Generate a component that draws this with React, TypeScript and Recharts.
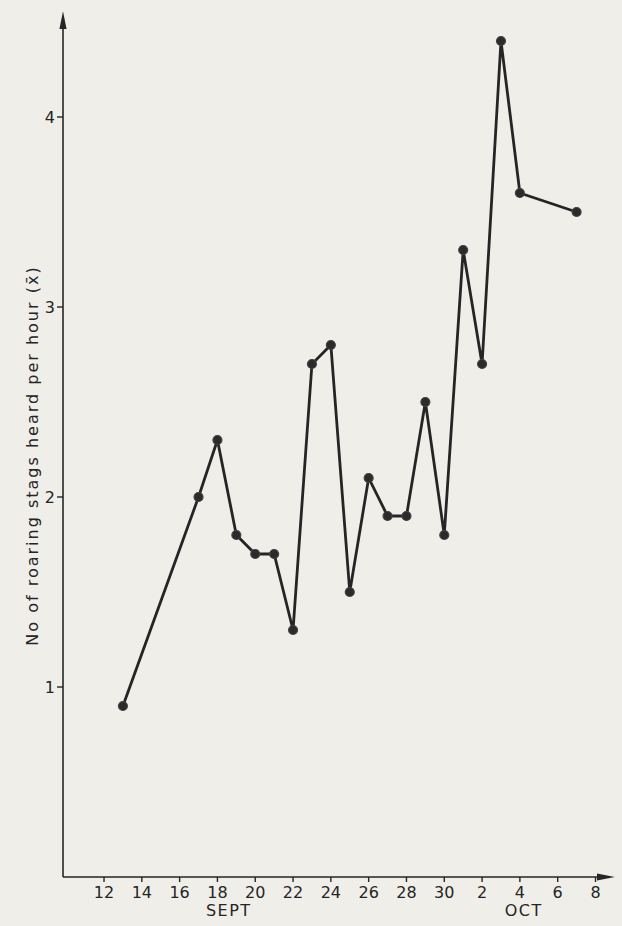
import React from 'react';
import { LineChart, Line, XAxis, YAxis } from 'recharts';

// Day numbers counted from 1 Sept (Oct 1 = 31)
const DAYS = [13, 17, 18, 19, 20, 21, 22, 23, 24, 25, 26, 27, 28, 29, 30, 31, 32, 33, 34, 37];
const STAGS_PER_HOUR = [0.9, 2.0, 2.3, 1.8, 1.7, 1.7, 1.3, 2.7, 2.8, 1.5, 2.1, 1.9, 1.9, 2.5, 1.8, 3.3, 2.7, 4.4, 3.6, 3.5];

const X_TICKS = [12, 14, 16, 18, 20, 22, 24, 26, 28, 30, 32, 34, 36, 38];
const X_TICK_LABELS = ['12', '14', '16', '18', '20', '22', '24', '26', '28', '30', '2', '4', '6', '8'];
const MONTH_TICKS = [18.6, 34.2];
const MONTH_LABELS = ['SEPT', 'OCT'];
const Y_TICKS = [1, 2, 3, 4];
const Y_TITLE = 'No of roaring stags heard per hour (x\u0304)';

const data = DAYS.map((d, i) => ({ day: d, value: STAGS_PER_HOUR[i] }));

const INK = '#252525';
const FONT = '"DejaVu Sans", sans-serif';

export default function App() {
  return (
    <div style={{ position: 'absolute', left: 0, top: 0, width: 622, height: 926, background: '#efeee9' }}>
      <LineChart width={622} height={926} data={data} margin={{ top: 22, right: 18, bottom: 0, left: 0 }}>
        <defs>
          <marker id="arrowHead" viewBox="0 0 10 10" refX="4" refY="5" markerWidth="18" markerHeight="9"
            markerUnits="userSpaceOnUse" orient="auto-start-reverse" preserveAspectRatio="none">
            <path d="M0,1 L10,5 L0,9 z" fill={INK} />
          </marker>
        </defs>
        <XAxis
          dataKey="day"
          type="number"
          domain={[9.83, 38.45]}
          ticks={X_TICKS}
          interval={0}
          allowDataOverflow
          height={22}
          tickSize={5}
          tickMargin={5}
          axisLine={{ stroke: INK, strokeWidth: 1.6, markerEnd: 'url(#arrowHead)' }}
          tickLine={{ stroke: INK, strokeWidth: 1.4 }}
          tick={{ fill: INK, fontSize: 16, fontFamily: FONT }}
          tickFormatter={(v: number) => X_TICK_LABELS[X_TICKS.indexOf(v)] ?? String(v)}
        />
        <XAxis
          xAxisId="month"
          dataKey="day"
          type="number"
          domain={[9.83, 38.45]}
          ticks={MONTH_TICKS}
          interval={0}
          allowDataOverflow
          height={27}
          axisLine={false}
          tickLine={false}
          tickSize={0}
          tickMargin={6}
          tick={{ fill: INK, fontSize: 16, fontFamily: FONT, letterSpacing: 1.5 }}
          tickFormatter={(v: number) => MONTH_LABELS[MONTH_TICKS.indexOf(v)] ?? ''}
        />
        <YAxis
          type="number"
          domain={[0, 4.5]}
          ticks={Y_TICKS}
          interval={0}
          allowDataOverflow
          width={63}
          tickSize={6}
          tickMargin={2}
          axisLine={{ stroke: INK, strokeWidth: 1.6, markerStart: 'url(#arrowHead)' }}
          tickLine={{ stroke: INK, strokeWidth: 1.4 }}
          tick={{ fill: INK, fontSize: 16, fontFamily: FONT }}
          label={{
            value: Y_TITLE,
            angle: -90,
            position: 'center',
            dx: 1,
            dy: 6,
            style: { fill: INK, fontSize: 16, fontFamily: FONT, letterSpacing: 2 },
          }}
        />
        <Line
          dataKey="value"
          type="linear"
          stroke={INK}
          strokeWidth={2.8}
          dot={{ r: 4.5, fill: '#2b2b2b', stroke: '#444', strokeWidth: 1.2 }}
          isAnimationActive={false}
        />
      </LineChart>
    </div>
  );
}
